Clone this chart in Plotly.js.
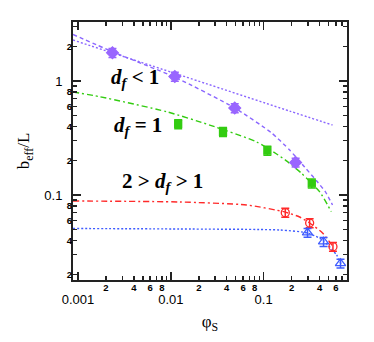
<!DOCTYPE html>
<html>
<head>
<meta charset="utf-8">
<script src="https://cdn.plot.ly/plotly-3.0.1.min.js"></script>
<style>
  html, body { margin: 0; padding: 0; background: #fff; }
  #plot { width: 374px; height: 342px; }
</style>
</head>
<body>
<div id="plot"></div>
<script>
// 量測點 (φS, b_eff/L)
const dfLt1X = [0.00235, 0.01104, 0.0488, 0.221];
const dfLt1Y = [1.77, 1.095, 0.580, 0.193];
const dfEq1X = [0.0120, 0.0365, 0.1097, 0.330];
const dfEq1Y = [0.420, 0.359, 0.245, 0.1267];
const dfMidRedX = [0.171, 0.313, 0.558];
const dfMidRedY = [0.070, 0.0568, 0.0352];
const dfMidBlueX = [0.297, 0.442, 0.673];
const dfMidBlueY = [0.0467, 0.0389, 0.0251];

// 理論曲線（讀圖取樣）
const purpleDotX = [0.000883, 0.0125, 0.1905, 0.552];
const purpleDotY = [2.29, 1.13, 0.545, 0.411];
const purpleDashX = [0.000883, 0.00238, 0.01104, 0.0488, 0.122, 0.1905, 0.276, 0.381, 0.465, 0.552];
const purpleDashY = [2.56, 1.80, 1.08, 0.580, 0.350, 0.248, 0.176, 0.130, 0.106, 0.0817];
const greenX = [0.000883, 0.001726, 0.0090, 0.0262, 0.0841, 0.138, 0.181, 0.256, 0.400, 0.535];
const greenY = [0.801, 0.728, 0.538, 0.411, 0.292, 0.229, 0.196, 0.155, 0.107, 0.0714];
const redX = [0.000883, 0.0125, 0.0656, 0.168, 0.244, 0.313, 0.431, 0.552];
const redY = [0.0886, 0.0868, 0.0817, 0.071, 0.0641, 0.0568, 0.0464, 0.0357];
const blueX = [0.000883, 0.0125, 0.1486, 0.297, 0.431, 0.610, 0.690];
const blueY = [0.0508, 0.0503, 0.0493, 0.0464, 0.0403, 0.0298, 0.0243];

// 刻度：十進位主刻度、有標示的次刻度、無標示的次刻度
const xDecades = [0.001, 0.01, 0.1];
const xDecadeLabels = ['0.001', '0.01', '0.1'];
const xMinorVals = [0.002, 0.004, 0.006, 0.008, 0.02, 0.04, 0.06, 0.08, 0.2, 0.4, 0.6];
const xMinorLabels = ['2', '4', '6', '8', '2', '4', '6', '8', '2', '4', '6'];
const xBareVals = [0.003, 0.005, 0.007, 0.009, 0.03, 0.05, 0.07, 0.09, 0.3, 0.5, 0.7];
const yDecades = [0.1, 1];
const yDecadeLabels = ['0.1', '1'];
const yMinorVals = [0.02, 0.04, 0.06, 0.08, 0.2, 0.4, 0.6, 0.8, 2];
const yMinorLabels = ['2', '4', '6', '8', '2', '4', '6', '8', '2'];
const yBareVals = [0.03, 0.05, 0.07, 0.09, 0.3, 0.5, 0.7, 0.9, 3];

const PURPLE = '#8a66ff';
const GREEN = '#33cc11';
const RED = '#ff2a2a';
const BLUE = '#3f5cff';

function errBars(color) {
  return { type: 'percent', value: 9, color: color, thickness: 1.5, width: 4 };
}

function curve(x, y, color, dash) {
  return {
    x, y, mode: 'lines', type: 'scatter',
    line: { color, width: 1.4, dash, shape: 'spline', smoothing: 0.6 },
    hoverinfo: 'skip', showlegend: false
  };
}

function points(x, y, color, symbol, size) {
  return {
    x, y, mode: 'markers', type: 'scatter',
    marker: { color, symbol, size, line: { color, width: 1.3 } },
    error_y: errBars(color),
    showlegend: false
  };
}

const traces = [
  curve(purpleDotX, purpleDotY, PURPLE, '2px,2px'),
  curve(purpleDashX, purpleDashY, PURPLE, '4px,3px'),
  curve(greenX, greenY, GREEN, '6px,3px,2px,3px'),
  curve(redX, redY, RED, '6px,3px,2px,3px'),
  curve(blueX, blueY, BLUE, '2px,2px'),
  points(dfLt1X, dfLt1Y, '#9966ff', 'diamond', 9),
  points(dfEq1X, dfEq1Y, GREEN, 'square', 7),
  points(dfMidRedX, dfMidRedY, RED, 'circle-open', 8),
  points(dfMidBlueX, dfMidBlueY, BLUE, 'triangle-up-open', 9),
  // 空的 trace，讓次刻度的疊加軸出現
  { x: [], y: [], xaxis: 'x2', yaxis: 'y2', type: 'scatter', showlegend: false }
];

const majorFont = { family: 'Liberation Sans, Arial, sans-serif', size: 13, color: '#000' };
const minorFont = { family: 'Liberation Sans, Arial, sans-serif', size: 9.5, color: '#000', weight: 'bold' };
const titleFont = { family: 'Liberation Serif, Times New Roman, serif', size: 17, color: '#000' };
const annFont = { family: 'Liberation Serif, Times New Roman, serif', size: 21, color: '#000' };

const xRange = [-3.054, -0.102];
const yRange = [-1.746, 0.518];

const tickStyle = { tickwidth: 1.5, tickcolor: '#222', showgrid: false, zeroline: false, tickangle: 0 };

function annotation(x, y, text) {
  return { xref: 'paper', yref: 'paper', x, y, xanchor: 'center', yanchor: 'middle',
           showarrow: false, text, font: annFont };
}

const layout = {
  width: 374,
  height: 342,
  margin: { l: 73, r: 27, t: 22, b: 62 },
  paper_bgcolor: '#fff',
  plot_bgcolor: '#fff',
  showlegend: false,
  xaxis: Object.assign({
    type: 'log', range: xRange,
    tickmode: 'array', tickvals: xDecades, ticktext: xDecadeLabels,
    ticks: 'inside', ticklen: 8, ticklabelstandoff: 6,
    showline: true, linewidth: 2, linecolor: '#222', mirror: 'ticks',
    tickfont: majorFont,
    title: { text: 'φ<sub>S</sub>', font: titleFont, standoff: 10 }
  }, tickStyle),
  yaxis: Object.assign({
    type: 'log', range: yRange,
    tickmode: 'array', tickvals: yDecades, ticktext: yDecadeLabels,
    ticks: 'inside', ticklen: 8, ticklabelstandoff: 6,
    showline: true, linewidth: 2, linecolor: '#222', mirror: 'ticks',
    tickfont: majorFont,
    title: { text: 'b<sub>eff</sub>/L', font: titleFont, standoff: 10 }
  }, tickStyle),
  xaxis2: Object.assign({
    type: 'log', range: xRange, overlaying: 'x', anchor: 'y2', side: 'bottom',
    tickmode: 'array', tickvals: xMinorVals, ticktext: xMinorLabels,
    ticks: 'inside', ticklen: 4, ticklabelstandoff: 0,
    minor: { tickmode: 'array', tickvals: xBareVals, ticks: 'inside', ticklen: 4, tickwidth: 1.5, tickcolor: '#222' },
    tickfont: minorFont, mirror: 'ticks', showline: false
  }, tickStyle),
  yaxis2: Object.assign({
    type: 'log', range: yRange, overlaying: 'y', anchor: 'x2', side: 'left',
    tickmode: 'array', tickvals: yMinorVals, ticktext: yMinorLabels,
    ticks: 'inside', ticklen: 4, ticklabelstandoff: 0,
    minor: { tickmode: 'array', tickvals: yBareVals, ticks: 'inside', ticklen: 4, tickwidth: 1.5, tickcolor: '#222' },
    tickfont: minorFont, mirror: 'ticks', showline: false
  }, tickStyle),
  annotations: [
    annotation(0.228, 0.783, '<b><i>d<sub>f</sub></i> &lt; 1</b>'),
    annotation(0.237, 0.597, '<b><i>d<sub>f</sub></i> = 1</b>'),
    annotation(0.325, 0.38, '<b>2 &gt; <i>d<sub>f</sub></i> &gt; 1</b>')
  ]
};

Plotly.newPlot('plot', traces, layout, { displayModeBar: false, staticPlot: true });
</script>
</body>
</html>
